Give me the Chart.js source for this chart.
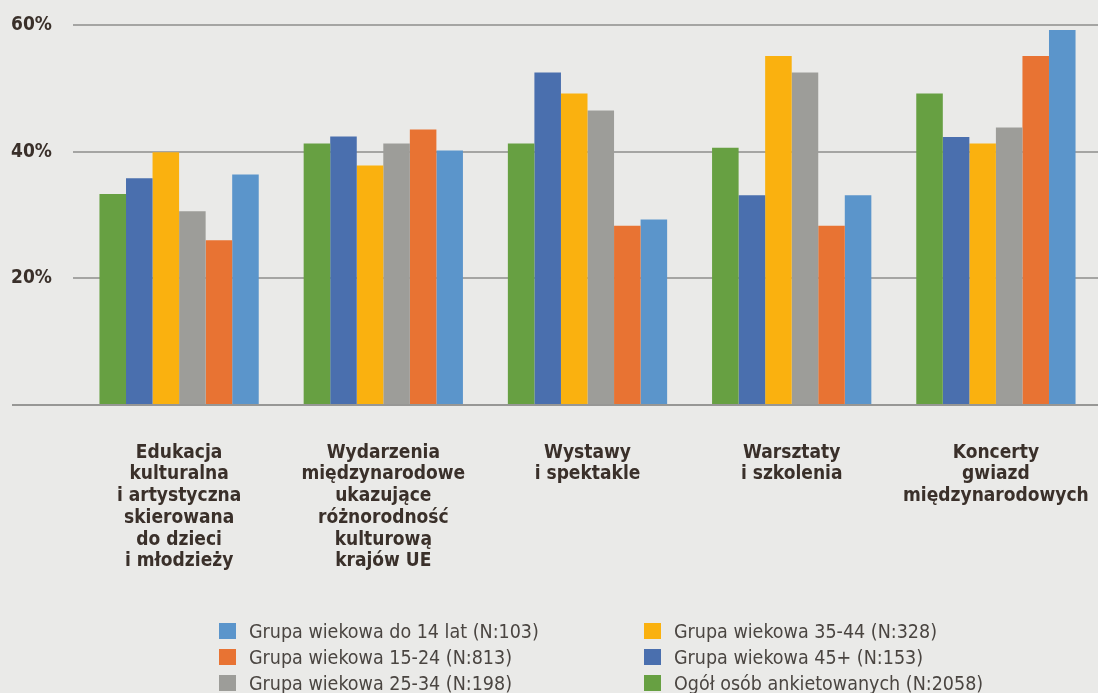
<!DOCTYPE html>
<html><head><meta charset="utf-8">
<script src="https://cdn.jsdelivr.net/npm/chart.js@4/dist/chart.umd.min.js"></script>
<style>
html,body{margin:0;padding:0;background:#eaeae8;}
#wrap{position:relative;width:1098px;height:693px;overflow:hidden;}
#c{position:absolute;left:0;top:0;}
#legend{position:absolute;left:219px;top:618px;display:grid;grid-template-rows:repeat(3,26px);grid-auto-flow:column;grid-template-columns:425px auto;font-family:'DejaVu Sans Condensed','DejaVu Sans',sans-serif;font-stretch:condensed;font-size:19.5px;color:#4a4541;}
.item{display:flex;align-items:center;white-space:nowrap;}
.sw{width:17px;height:16px;margin-right:13px;flex:none;}
</style></head>
<body>
<div id="wrap">
<canvas id="c" width="1098" height="693"></canvas>
<div id="legend"></div>
</div>
<script>
const categories = [
  ['Edukacja','kulturalna','i artystyczna','skierowana','do dzieci','i młodzieży'],
  ['Wydarzenia','międzynarodowe','ukazujące','różnorodność','kulturową','krajów UE'],
  ['Wystawy','i spektakle'],
  ['Warsztaty','i szkolenia'],
  ['Koncerty','gwiazd','międzynarodowych']
];
const seriesNames = [
  'Ogół osób ankietowanych (N:2058)',
  'Grupa wiekowa 45+ (N:153)',
  'Grupa wiekowa 35-44 (N:328)',
  'Grupa wiekowa 25-34 (N:198)',
  'Grupa wiekowa 15-24 (N:813)',
  'Grupa wiekowa do 14 lat (N:103)'
];
const ogol   = [33.3, 41.3, 41.3, 40.6, 49.2];
const g45    = [35.8, 42.4, 52.5, 33.1, 42.3];
const g3544  = [39.9, 37.8, 49.2, 55.1, 41.3];
const g2534  = [30.6, 41.3, 46.5, 52.5, 43.8];
const g1524  = [26.0, 43.5, 28.3, 28.3, 55.1];
const g14    = [36.4, 40.2, 29.3, 33.1, 59.2];
const yTicks = [0, 20, 40, 60];
const yTickLabels = ['', '20%', '40%', '60%'];

const seriesValues = [ogol, g45, g3544, g2534, g1524, g14];
const colors = ['#67a042', '#4a6fae', '#fab10f', '#9d9d99', '#e87333', '#5b95cb'];
const FAMILY = "'DejaVu Sans Condensed', 'DejaVu Sans', sans-serif";
const TEXT = '#3a302a';

const baselinePlugin = {
  id: 'baseline',
  afterDatasetsDraw(chart) {
    const {ctx, scales: {y}, chartArea} = chart;
    const py = Math.round(y.getPixelForValue(0));
    ctx.save();
    ctx.strokeStyle = '#979795';
    ctx.lineWidth = 2;
    ctx.beginPath();
    ctx.moveTo(y.left + 1, py);
    ctx.lineTo(chartArea.right, py);
    ctx.stroke();
    ctx.restore();
  }
};

new Chart(document.getElementById('c'), {
  type: 'bar',
  data: {
    labels: categories,
    datasets: seriesValues.map((d, i) => ({
      label: seriesNames[i],
      data: d,
      backgroundColor: colors[i],
      borderWidth: 0,
      categoryPercentage: 0.78,
      barPercentage: 1
    }))
  },
  options: {
    responsive: false,
    animation: false,
    devicePixelRatio: 1,
    layout: {padding: {left: 11, right: 0, top: 25, bottom: 0}},
    plugins: {legend: {display: false}, tooltip: {enabled: false}},
    scales: {
      x: {
        grid: {display: false},
        border: {display: false},
        ticks: {
          font: {family: FAMILY, size: 19, weight: 'bold', lineHeight: 1.142},
          color: TEXT,
          padding: 29,
          maxRotation: 0,
          autoSkip: false
        },
        afterFit: s => { s.height = 288; s.paddingLeft = 0; s.paddingRight = 0; }
      },
      y: {
        min: 0, max: 60,
        afterBuildTicks: s => { s.ticks = yTicks.map(v => ({value: v})); },
        border: {display: false},
        grid: {
          color: c => (c.tick && c.tick.value === 0) ? 'rgba(0,0,0,0)' : '#a5a5a3',
          lineWidth: 2,
          drawTicks: true,
          tickLength: 4
        },
        ticks: {
          callback: (v, i) => yTickLabels[i],
          crossAlign: 'far',
          font: {family: FAMILY, size: 19, weight: 'bold'},
          color: TEXT,
          padding: 4
        },
        afterFit: s => { s.width = 66; }
      }
    }
  },
  plugins: [baselinePlugin]
});

const legend = document.getElementById('legend');
for (let i = seriesNames.length - 1; i >= 0; i--) {
  const it = document.createElement('div');
  it.className = 'item';
  const sw = document.createElement('span');
  sw.className = 'sw';
  sw.style.background = colors[i];
  const tx = document.createElement('span');
  tx.textContent = seriesNames[i];
  it.appendChild(sw); it.appendChild(tx);
  legend.appendChild(it);
}
</script>
</body></html>
